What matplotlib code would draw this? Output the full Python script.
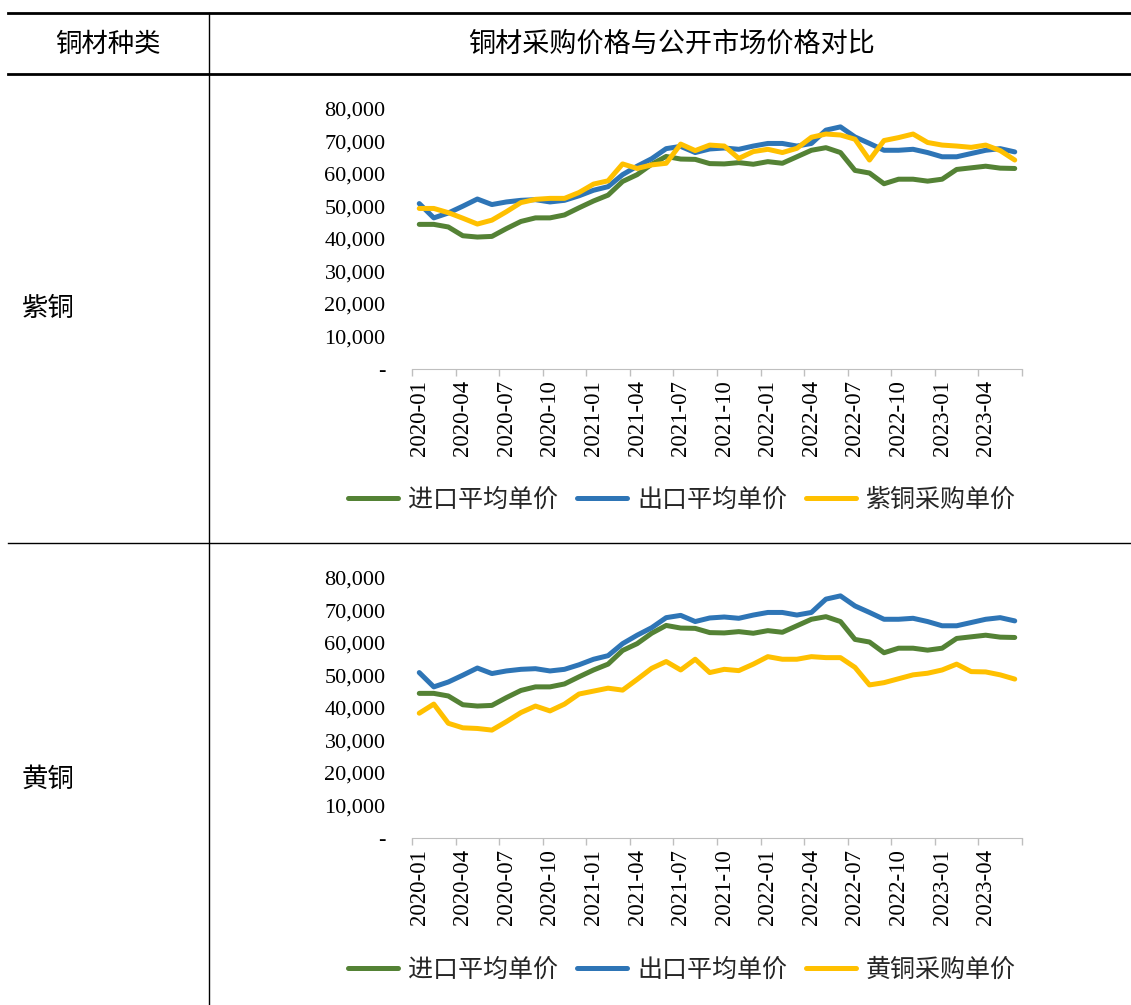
import matplotlib
matplotlib.use("Agg")
import matplotlib.pyplot as plt
from matplotlib.lines import Line2D
from matplotlib.ticker import FuncFormatter
import numpy as np

plt.rcParams["font.family"] = ["Noto Sans CJK SC", "DejaVu Sans"]

# ── data (元/吨, 2020-01 … 2023-06) ─────────────────────────────────────────
months = [f"{y}-{m:02d}" for y in (2020, 2021, 2022, 2023) for m in range(1, 13)][:42]
tick_labels = months[::3]

import_avg = [44500, 44500, 43700, 41000, 40600, 40800, 43200, 45400, 46500, 46500,
              47400, 49600, 51700, 53500, 57700, 59800, 63000, 65400, 64600, 64500,
              63200, 63100, 63500, 63000, 63800, 63300, 65300, 67300, 68100, 66600,
              61100, 60300, 57000, 58400, 58400, 57800, 58400, 61400, 61900, 62400,
              61800, 61700]
export_avg = [50900, 46500, 48000, 50100, 52300, 50600, 51400, 51900, 52100, 51400,
              51900, 53300, 55000, 56100, 59800, 62400, 64700, 67800, 68500, 66600,
              67700, 68000, 67600, 68600, 69400, 69400, 68600, 69400, 73500, 74500,
              71400, 69400, 67300, 67300, 67600, 66600, 65300, 65300, 66300, 67300,
              67800, 66800]
red_copper = [49400, 49400, 48100, 46400, 44600, 45800, 48400, 51200, 52200, 52500,
              52500, 54300, 56900, 57900, 63100, 61700, 62800, 63300, 69200, 67200,
              68900, 68600, 64800, 66900, 67600, 66600, 67900, 71300, 72300, 72000,
              70700, 64300, 70300, 71200, 72300, 69700, 68900, 68600, 68200, 68900,
              67200, 64300]
brass = [38400, 41200, 35300, 33900, 33700, 33200, 35800, 38600, 40600, 39100,
         41200, 44300, 45200, 46100, 45500, 48800, 52200, 54300, 51700, 55000,
         50900, 51900, 51500, 53500, 55800, 55000, 55000, 55800, 55500, 55500,
         52500, 47100, 47800, 49000, 50200, 50700, 51700, 53500, 51200, 51100,
         50200, 48900]

series_names = ["进口平均单价", "出口平均单价"]
rows = [("紫铜", "紫铜采购单价", red_copper), ("黄铜", "黄铜采购单价", brass)]

GREEN, BLUE, YELLOW = "#548235", "#2E75B6", "#FFC000"
SERIF = ["Liberation Serif", "DejaVu Serif"]

W, H = 1131, 1005
fig = plt.figure(figsize=(W / 100, H / 100), dpi=100)


def fx(px):
    return px / W


def fy(py):
    return 1 - py / H


def hline(y, x0, x1, lw):
    fig.add_artist(Line2D([fx(x0), fx(x1)], [fy(y), fy(y)], color="black", lw=lw,
                          transform=fig.transFigure))


# ── table frame ──────────────────────────────────────────────────────────────
hline(13, 8, W, 2.0)
hline(74, 8, W, 2.0)
hline(543, 8, W, 1.0)
fig.add_artist(Line2D([fx(209), fx(209)], [fy(13), 0], color="black", lw=1.0,
                      transform=fig.transFigure))

fig.text(fx(108), fy(44), "铜材种类", ha="center", va="center", fontsize=19)
fig.text(fx(672), fy(44), "铜材采购价格与公开市场价格对比", ha="center", va="center",
         fontsize=19.5)

x = np.arange(len(months)) + 0.5
ax_tops = [109, 578]
legend_y = [500, 970]
row_label_y = [309, 779]

for (row_name, buy_name, buy), top, ly, ry in zip(rows, ax_tops, legend_y, row_label_y):
    fig.text(fx(22), fy(ry), row_name, ha="left", va="center", fontsize=19)

    ax = fig.add_axes([fx(412), fy(top + 260), fx(610), 260 / H])
    kw = dict(lw=3.6, solid_capstyle="round", solid_joinstyle="round")
    ax.plot(x, import_avg, color=GREEN, label=series_names[0], **kw)
    ax.plot(x, export_avg, color=BLUE, label=series_names[1], **kw)
    ax.plot(x, buy, color=YELLOW, label=buy_name, **kw)

    ax.set_xlim(0, len(months))
    ax.set_ylim(0, 80000)
    ax.set_yticks(np.arange(0, 80001, 10000))
    ax.yaxis.set_major_formatter(FuncFormatter(lambda v, p: "-" if v == 0 else f"{v:,.0f}"))
    ax.tick_params(axis="y", length=0, pad=19, labelsize=16)
    for t in ax.get_yticklabels():
        t.set_family(SERIF)

    ax.set_xticks(np.arange(0, len(months) + 1, 3))
    ax.set_xticklabels([])
    ax.tick_params(axis="x", which="major", length=5, color="#BFBFBF", width=1)
    ax.set_xticks(x[::3], minor=True)
    ax.set_xticklabels(tick_labels, minor=True, rotation=90, fontsize=16.5)
    ax.tick_params(axis="x", which="minor", length=0, pad=8)
    for t in ax.get_xticklabels(minor=True):
        t.set_family(SERIF)

    for s in ("top", "right", "left"):
        ax.spines[s].set_visible(False)
    ax.spines["bottom"].set_color("#BFBFBF")

    fig.legend(*ax.get_legend_handles_labels(), loc="center", ncol=3,
               bbox_to_anchor=(fx(682), fy(ly)), frameon=False, fontsize=18,
               handlelength=2.0, handletextpad=0.4, columnspacing=0.75,
               borderpad=0, labelcolor="#262626")

fig.savefig("out.png", dpi=100)
